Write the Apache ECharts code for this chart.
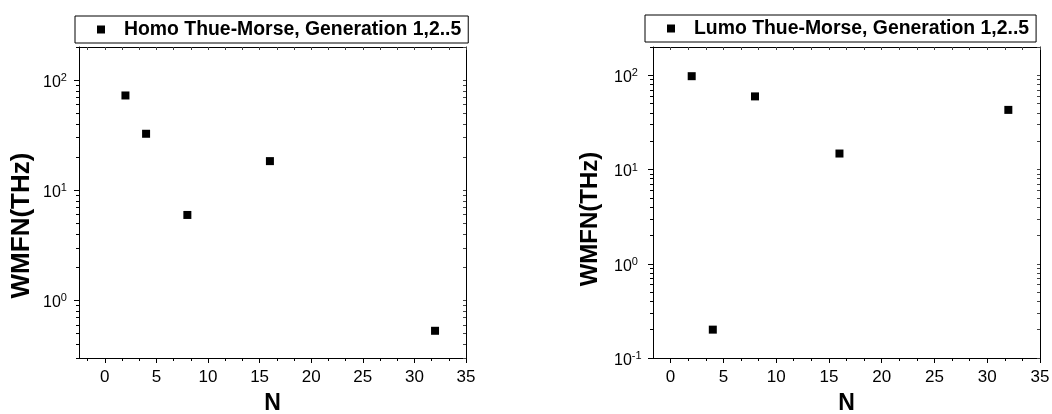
<!DOCTYPE html>
<html>
<head>
<meta charset="utf-8">
<script src="https://cdn.jsdelivr.net/npm/echarts@6/dist/echarts.min.js"></script>
<style>
  html, body { margin: 0; padding: 0; background: #fff; }
  #chart { width: 1052px; height: 414px; }
</style>
</head>
<body>
<div id="chart"></div>
<script>
// Thue-Morse chain size N for generations 1..5
const generationN = [2, 4, 8, 16, 32];
// WMFN (THz) for the HOMO and LUMO states
const homoWmfn = [72.6, 32.6, 5.97, 18.4, 0.53];
const lumoWmfn = [98, 0.2, 59.8, 14.8, 43];

const homoName = 'Homo Thue-Morse, Generation 1,2..5';
const lumoName = 'Lumo Thue-Morse, Generation 1,2..5';
const xAxisTitle = 'N';
const yAxisTitle = 'WMFN(THz)';

const xTicks = [0, 5, 10, 15, 20, 25, 30, 35];
const homoYTicks = [1, 10, 100];
const lumoYTicks = [0.1, 1, 10, 100];

const FONT = '"Liberation Sans", Arial, sans-serif';
const INK = '#000';

// three minor ticks per major interval on N
function linearMinors(majors, min, max) {
  const out = [];
  const step = majors[1] - majors[0];
  for (let v = majors[0] - step; v <= max; v += step) {
    for (let k = 1; k < 3; k++) {
      const t = +(v + step * k / 3).toFixed(4);
      if (t >= min - 1e-6 && t <= max + 1e-6) out.push(t);
    }
  }
  return out;
}
// 2..9 x 10^k minor ticks on the log axis
function logMinors(min, max) {
  const out = [];
  for (let k = Math.floor(Math.log10(min)); k <= Math.ceil(Math.log10(max)); k++) {
    for (let m = 2; m <= 9; m++) {
      const t = Number((m * Math.pow(10, k)).toPrecision(6));
      if (t >= min * 0.9999 && t <= max * 1.0001) out.push(t);
    }
  }
  return out;
}

function powerLabel(v) {
  const e = Math.round(Math.log10(v));
  return '{b|10}{s|' + e + '}';
}

function panel(idx, cfg) {
  const xMinors = linearMinors(xTicks, cfg.xMin, cfg.xMax);
  const yMinors = logMinors(cfg.yMin, cfg.yMax);
  const allY = cfg.yTicks.concat(yMinors);
  const line = { show: true, onZero: false, lineStyle: { color: INK, width: 1 } };
  const xs = [
    { // main bottom axis
      type: 'value', gridIndex: idx, position: 'bottom', min: cfg.xMin, max: cfg.xMax,
      axisLine: line, splitLine: { show: false },
      axisTick: { show: true, inside: false, length: 5, customValues: xTicks, lineStyle: { color: INK } },
      axisLabel: { show: true, customValues: xTicks, color: INK, fontSize: 17, fontFamily: FONT, margin: 11 },
      name: xAxisTitle, nameLocation: 'middle', nameGap: 34,
      nameTextStyle: { color: INK, fontSize: 23, fontWeight: 'bold', fontFamily: FONT }
    },
    { // minor ticks at the bottom
      type: 'value', gridIndex: idx, position: 'bottom', min: cfg.xMin, max: cfg.xMax,
      axisLine: { show: false, onZero: false }, splitLine: { show: false }, axisLabel: { show: false },
      axisTick: { show: true, inside: false, length: 3, customValues: xMinors, lineStyle: { color: INK } }
    },
    { // top frame
      type: 'value', gridIndex: idx, position: 'top', min: cfg.xMin, max: cfg.xMax,
      axisLine: line, splitLine: { show: false }, axisLabel: { show: false },
      axisTick: { show: true, inside: true, length: 3, customValues: xTicks.concat(xMinors), lineStyle: { color: '#444' } }
    }
  ];
  const ys = [
    { // main left log axis
      type: 'log', logBase: 10, gridIndex: idx, position: 'left', min: cfg.yMin, max: cfg.yMax,
      axisLine: line, splitLine: { show: false }, minorTick: { show: false },
      axisTick: { show: true, inside: false, length: 5, customValues: cfg.yTicks, lineStyle: { color: INK } },
      axisLabel: {
        show: true, customValues: cfg.yTicks, formatter: powerLabel, align: 'left', margin: cfg.labelMargin,
        padding: [5, 0, 0, 0],
        rich: {
          b: { fontSize: 16, fontFamily: FONT, color: INK, lineHeight: 20 },
          s: { fontSize: 11, fontFamily: FONT, color: INK, lineHeight: 12, verticalAlign: 'top' }
        }
      },
      name: yAxisTitle, nameLocation: 'middle', nameGap: cfg.nameGap,
      nameTextStyle: { color: INK, fontSize: cfg.nameSize, fontWeight: 'bold', fontFamily: FONT, padding: [0, cfg.namePad, 0, 0] }
    },
    { // minor ticks on the left
      type: 'log', logBase: 10, gridIndex: idx, position: 'left', min: cfg.yMin, max: cfg.yMax,
      axisLine: { show: false, onZero: false }, splitLine: { show: false }, axisLabel: { show: false },
      axisTick: { show: true, inside: false, length: 3, customValues: yMinors, lineStyle: { color: INK } }
    },
    { // right frame
      type: 'log', logBase: 10, gridIndex: idx, position: 'right', min: cfg.yMin, max: cfg.yMax,
      axisLine: line, splitLine: { show: false }, axisLabel: { show: false },
      axisTick: { show: true, inside: true, length: 3, customValues: allY, lineStyle: { color: '#444' } }
    }
  ];
  return { xs, ys };
}

const left = panel(0, { xMin: -2.5, xMax: 35, yMin: 0.3, yMax: 200, yTicks: homoYTicks, labelMargin: 36, nameGap: 44, namePad: 46, nameSize: 26 });
const right = panel(1, { xMin: -5 / 3, xMax: 35, yMin: 0.1, yMax: 200, yTicks: lumoYTicks, labelMargin: 39, nameGap: 51, namePad: 33, nameSize: 24 });

function legendFor(name, x, y) {
  return {
    data: [name], left: x, top: y, orient: 'horizontal',
    icon: 'rect', itemWidth: 8, itemHeight: 8,
    borderColor: INK, borderWidth: 1, padding: [4, 7, 4, 22],
    itemStyle: { color: INK, opacity: 1 },
    textStyle: { color: INK, fontSize: 19.4, fontWeight: 'bold', fontFamily: FONT, padding: [0, 0, 0, 14] },
    selectedMode: false
  };
}

const chart = echarts.init(document.getElementById('chart'), null, { renderer: 'canvas' });
chart.setOption({
  animation: false,
  backgroundColor: '#fff',
  grid: [
    { left: 79, top: 47, width: 387, height: 311, outerBoundsMode: 'none', containLabel: false },
    { left: 653, top: 47, width: 387, height: 311, outerBoundsMode: 'none', containLabel: false }
  ],
  legend: [legendFor(homoName, 75, 16), legendFor(lumoName, 645, 15)],
  xAxis: left.xs.concat(right.xs),
  yAxis: left.ys.concat(right.ys),
  series: [
    {
      name: homoName, type: 'scatter', xAxisIndex: 0, yAxisIndex: 0,
      symbol: 'rect', symbolSize: 8, itemStyle: { color: INK, opacity: 1 },
      data: generationN.map((n, i) => [n, homoWmfn[i]])
    },
    {
      name: lumoName, type: 'scatter', xAxisIndex: 3, yAxisIndex: 3,
      symbol: 'rect', symbolSize: 8, itemStyle: { color: INK, opacity: 1 },
      data: generationN.map((n, i) => [n, lumoWmfn[i]])
    }
  ]
});
</script>
</body>
</html>
